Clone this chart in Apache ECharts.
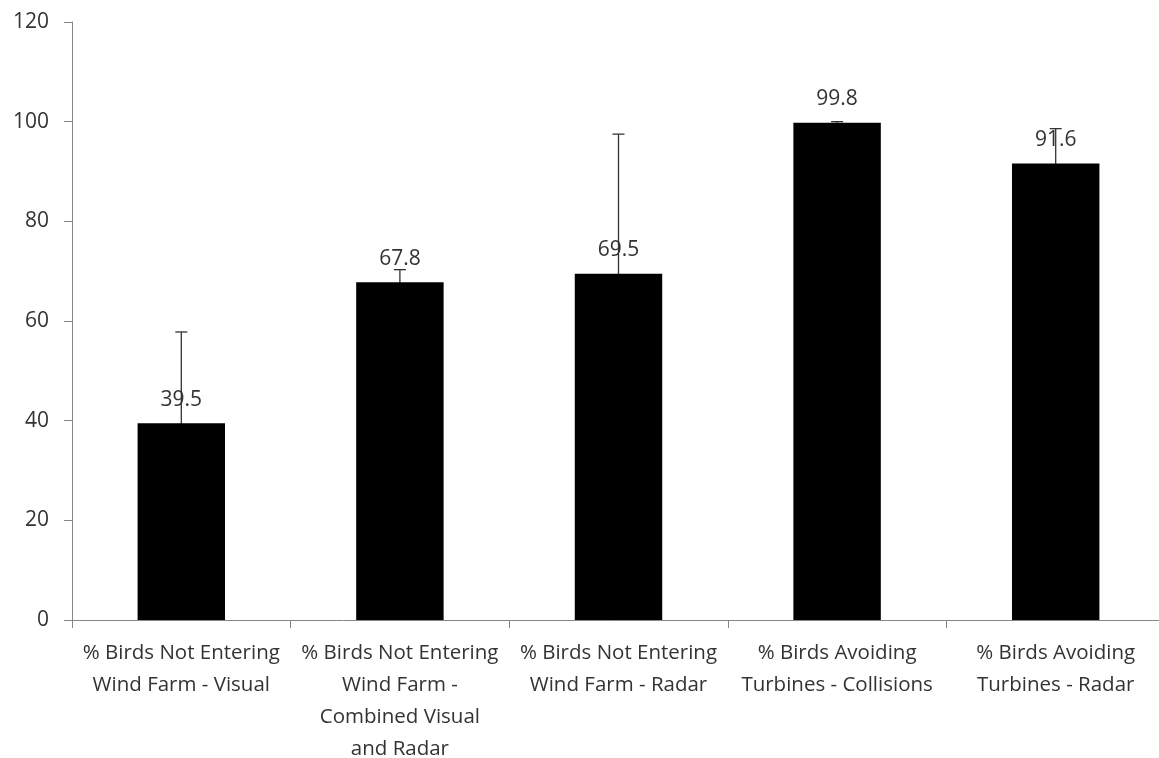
<!DOCTYPE html>
<html>
<head>
<meta charset="utf-8">
<script src="https://cdn.jsdelivr.net/npm/echarts@6/dist/echarts.min.js"></script>
<style>html,body{margin:0;padding:0;background:#fff}#c{width:1159px;height:758px}</style>
</head>
<body>
<div id="c"></div>
<script>
const categories = [
  "% Birds Not Entering\nWind Farm - Visual",
  "% Birds Not Entering\nWind Farm -\nCombined Visual\nand Radar",
  "% Birds Not Entering\nWind Farm - Radar",
  "% Birds Avoiding\nTurbines - Collisions",
  "% Birds Avoiding\nTurbines - Radar"
];
const values = [39.5, 67.8, 69.5, 99.8, 91.6];
const errorUpper = [57.8, 70.3, 97.5, 100.0, 98.6];
const yTicks = { min: 0, max: 120, interval: 20 };

const chart = echarts.init(document.getElementById('c'));
const textColor = '#333';
const axisColor = '#868686';
const font = 'Open Sans';

chart.setOption({
  animation: false,
  grid: { left: 72, top: 22, width: 1093, bottom: 138, containLabel: false, outerBoundsMode: 'none' },
  xAxis: {
    type: 'category',
    data: categories,
    axisLine: { lineStyle: { color: axisColor, width: 1 } },
    axisTick: { show: true, alignWithLabel: false, length: 8, lineStyle: { color: axisColor } },
    axisLabel: { color: textColor, fontFamily: font, fontSize: 20.5, lineHeight: 32, margin: 17, interval: 0 }
  },
  yAxis: {
    type: 'value',
    min: yTicks.min, max: yTicks.max, interval: yTicks.interval,
    axisLine: { show: true, lineStyle: { color: axisColor, width: 1 } },
    axisTick: { show: true, length: 8, lineStyle: { color: axisColor } },
    splitLine: { show: false },
    axisLabel: { color: textColor, fontFamily: font, fontSize: 21, margin: 23 }
  },
  series: [
    {
      type: 'custom',
      z: 1,
      renderItem: function (params, api) {
        const i = api.value(0);
        const v = api.value(1);
        const hi = api.value(2);
        const lo = v - (hi - v);
        const top = api.coord([i, hi]);
        const bot = api.coord([i, Math.max(lo, 0)]);
        const half = 6;
        const style = { stroke: '#333', lineWidth: 1.3 };
        return {
          type: 'group',
          children: [
            { type: 'line', shape: { x1: top[0], y1: top[1], x2: bot[0], y2: bot[1] }, style: style },
            { type: 'line', shape: { x1: top[0] - half, y1: top[1], x2: top[0] + half, y2: top[1] }, style: style }
          ]
        };
      },
      data: values.map((v, i) => [i, v, errorUpper[i]])
    },
    {
      type: 'bar',
      z: 2,
      data: values,
      barWidth: '40%',
      itemStyle: { color: '#000' },
      label: {
        show: true, position: 'top', distance: 13,
        color: textColor, fontFamily: font, fontSize: 21,
        formatter: p => p.value.toFixed(1)
      }
    }
  ]
});
</script>
</body>
</html>
